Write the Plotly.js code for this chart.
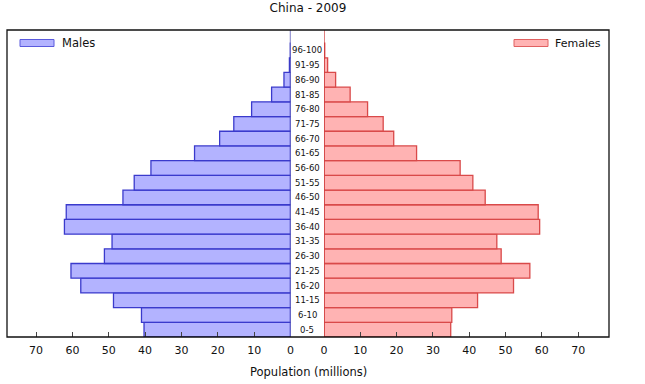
<!DOCTYPE html>
<html>
<head>
<meta charset="utf-8">
<script src="https://cdn.plot.ly/plotly-3.0.1.min.js"></script>
<style>html,body{margin:0;padding:0;background:#fff;}#chart{width:645px;height:384px;}</style>
</head>
<body>
<div id="chart"></div>
<script>
var ageGroups = ["0-5","6-10","11-15","16-20","21-25","26-30","31-35","36-40","41-45","46-50",
  "51-55","56-60","61-65","66-70","71-75","76-80","81-85","86-90","91-95","96-100"];
var males =   [40.3, 41.0, 48.7, 57.7, 60.4, 51.2, 49.1, 62.2, 61.7, 46.1,
  43.0, 38.4, 26.4, 19.5, 15.6, 10.7, 5.2, 1.8, 0.3, 0.05];
var females = [34.9, 35.2, 42.3, 52.2, 56.7, 48.8, 47.6, 59.4, 59.0, 44.4,
  41.0, 37.5, 25.5, 19.2, 16.3, 12.0, 7.2, 3.2, 1.0, 0.2];
var tickVals = [0, 10, 20, 30, 40, 50, 60, 70];
var chartTitle = "China - 2009";
var axisTitle = "Population (millions)";

var idx = ageGroups.map(function(_, i){ return i; });
var FONT = 'DejaVu Sans, Verdana, sans-serif';

var traces = [
  {type:'bar', orientation:'h', x: males, y: idx, xaxis:'x', yaxis:'y', name:'Males',
   marker:{color:'rgba(150,150,255,0.72)', line:{color:'#3a3acc', width:1.3}}, showlegend:false, hoverinfo:'x'},
  {type:'bar', orientation:'h', x: females, y: idx, xaxis:'x2', yaxis:'y2', name:'Females',
   marker:{color:'rgba(255,160,160,0.8)', line:{color:'#d94a4a', width:1.3}}, showlegend:false, hoverinfo:'x'}
];

var ann = ageGroups.map(function(g, i){
  return {text: g, x: 0.499, xref:'paper', y: i, yref:'y', showarrow:false,
    font:{family:FONT, size:8.5, color:'#111'}, xanchor:'center', yanchor:'middle'};
});
ann.push({text: axisTitle, x: 0.5, xref:'paper', y: -0.115, yref:'paper', showarrow:false,
  font:{family:FONT, size:11.5, color:'#111'}, xanchor:'center', yanchor:'middle'});
ann.push({text:'Males', x:(60-7)/602, xref:'paper', y:(337-43)/307, yref:'paper', showarrow:false, xanchor:'left', yanchor:'middle',
  font:{family:FONT, size:11.5, color:'#111'}});
ann.push({text:'Females', x:(603-7)/602, xref:'paper', y:(337-43)/307, yref:'paper', showarrow:false, xanchor:'right', yanchor:'middle',
  font:{family:FONT, size:11, color:'#111'}});

var yr = [-0.5, 20.39];
var axBase = {tickvals: tickVals, ticks:'inside', ticklen:5, tickcolor:'#444', showgrid:false, zeroline:false,
  showline:false, ticklabelstandoff:5, tickfont:{family:FONT, size:11, color:'#111'}, fixedrange:true};

var layout = {
  width:645, height:384,
  margin:{l:7, r:36, t:30, b:47},
  paper_bgcolor:'#fff', plot_bgcolor:'rgba(0,0,0,0)',
  bargap:0,
  title:{text: chartTitle, x:308/645, xanchor:'center', y:0.99, yref:'container', yanchor:'top', pad:{t:0, b:0},
    font:{family:FONT, size:12, color:'#111'}},
  xaxis: Object.assign({}, axBase, {domain:[0, (290.5-7)/602], range:[78, 0], autorange:false, anchor:'y'}),
  xaxis2: Object.assign({}, axBase, {domain:[(324-7)/602, 1], range:[0, 78.5], autorange:false, anchor:'y2'}),
  yaxis: {domain:[0,1], range: yr, showticklabels:false, ticks:'', showgrid:false, zeroline:false, anchor:'x', fixedrange:true},
  yaxis2: {domain:[0,1], range: yr, showticklabels:false, ticks:'', showgrid:false, zeroline:false, anchor:'x2', fixedrange:true},
  annotations: ann,
  shapes: [
    {type:'line', xref:'x', yref:'paper', x0:0, x1:0, y0:0, y1:1, line:{color:'#3a3aaa', width:1.3}},
    {type:'line', xref:'x2', yref:'paper', x0:0, x1:0, y0:0, y1:1, line:{color:'#cc3a3a', width:1.3}},
    {type:'rect', xref:'paper', yref:'paper', x0:0, x1:1, y0:0, y1:1, line:{color:'#111', width:1.3}},
    {type:'rect', xref:'paper', yref:'paper', x0:(20-7)/602, x1:(54-7)/602, y0:(337-46.5)/307, y1:(337-39.5)/307,
     fillcolor:'rgba(150,150,255,0.72)', line:{color:'#5a5add', width:1}},
    {type:'rect', xref:'paper', yref:'paper', x0:(514-7)/602, x1:(548-7)/602, y0:(337-46.5)/307, y1:(337-39.5)/307,
     fillcolor:'rgba(255,160,160,0.8)', line:{color:'#e06060', width:1}}
  ]
};

Plotly.newPlot('chart', traces, layout, {displayModeBar:false, staticPlot:true});
</script>
</body>
</html>
